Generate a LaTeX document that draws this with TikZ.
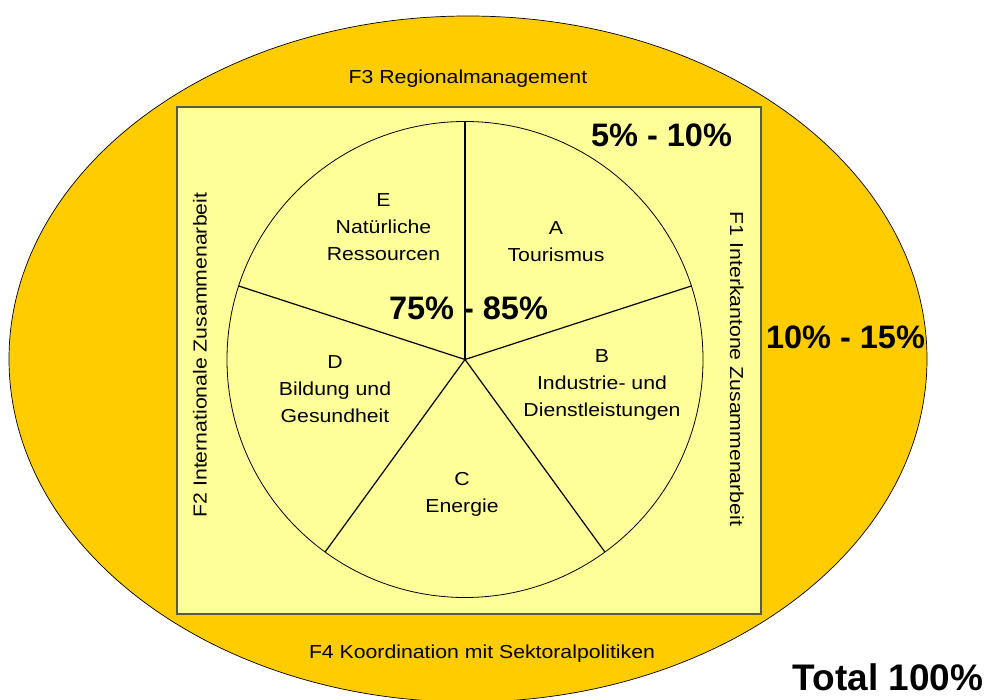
\documentclass[tikz,border=0pt]{standalone}
\usepackage{fontspec}
\setmainfont{Liberation Sans}[FakeStretch=1.13]
\newfontfamily\pctfont{Liberation Sans}
\definecolor{outerorange}{HTML}{FFCC00}
\definecolor{inneryellow}{HTML}{FFFF99}
\definecolor{rectborder}{HTML}{5A5A3C}
\tikzset{
  lbl/.style={anchor=base, inner sep=0pt, font=\fontsize{18.8}{22}\selectfont},
  pct/.style={anchor=base, inner sep=0pt, font=\pctfont\bfseries\fontsize{32.5}{36}\selectfont},
  total/.style={anchor=base, inner sep=0pt, font=\pctfont\bfseries\fontsize{37}{40}\selectfont},
  pieline/.style={draw=black, line width=1.2pt},
}
\begin{document}
\begin{tikzpicture}[x=1pt, y=-1pt]
\useasboundingbox (0,0) rectangle (988,700);
% outer ellipse
\draw[fill=outerorange, draw=black, line width=0.7pt] (468,359) ellipse [x radius=459, y radius=343];
% square
\draw[fill=inneryellow, draw=rectborder, line width=1.3pt] (177,107) rectangle (761,614);
% pie circle
\coordinate (pc) at (465,359.5);
\draw[draw=black, line width=0.8pt] (pc) circle [radius=238];
\coordinate (pA) at (465,121.5);
\coordinate (pB) at (691.3,286);
\coordinate (pE) at (238.7,286);
\coordinate (pD) at (325.1,552);
\coordinate (pC) at (604.9,552);
\draw[pieline] (pc) -- (pA);
\draw[pieline] (pc) -- (pB);
\draw[pieline] (pc) -- (pE);
\draw[pieline] (pc) -- (pD);
\draw[pieline] (pc) -- (pC);
% outer labels
\node[lbl] (f3) at (468,83.3) {F3 Regionalmanagement};
\node[lbl] (f4) at (482,658) {F4 Koordination mit Sektoralpolitiken};
\node[lbl, rotate=90] (f2) at (206.5,355) {F2 Internationale Zusammenarbeit};
\node[lbl, rotate=-90] (f1) at (730,369) {F1 Interkantone Zusammenarbeit};
% sector labels
\node[lbl] (e1) at (383.5,207) {E};
\node[lbl] (e2) at (383.5,234) {Natürliche};
\node[lbl] (e3) at (383.5,261) {Ressourcen};
\node[lbl] (a1) at (556,235) {A};
\node[lbl] (a2) at (556,262) {Tourismus};
\node[lbl] (d1) at (335,369) {D};
\node[lbl] (d2) at (335,396) {Bildung und};
\node[lbl] (d3) at (335,422) {Gesundheit};
\node[lbl] (b1) at (602,363) {B};
\node[lbl] (b2) at (602,390) {Industrie- und};
\node[lbl] (b3) at (602,417) {Dienstleistungen};
\node[lbl] (c1) at (462,485) {C};
\node[lbl] (c2) at (462,512) {Energie};
% percentages
\node[pct] (p510) at (661.5,147) {5\% - 10\%};
\node[pct] (p7585) at (468.5,320) {75\% - 85\%};
\node[pct] (p1015) at (845.5,349) {10\% - 15\%};
\node[total] (tot) at (888,690) {Total 100\%};
\end{tikzpicture}
\end{document}
